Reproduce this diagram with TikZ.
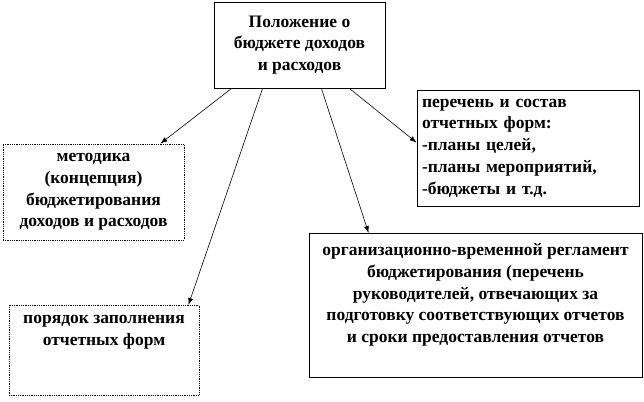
\documentclass[tikz,border=0pt]{standalone}
\usepackage{fontspec}
\setmainfont{Liberation Serif}
\usetikzlibrary{arrows.meta, positioning}

\begin{document}
\begin{tikzpicture}[x=1pt, y=-1pt,
      box/.style={rectangle, draw=black, line width=0.8pt, inner sep=5pt, align=center, font=\fontsize{17.5}{21.8}\selectfont\bfseries},
      dotbox/.style={box, densely dotted},
      arrow/.style={-{Latex[length=7pt, width=5pt]}, line width=0.6pt, black},
    ]
    \useasboundingbox (0,0) rectangle (644,401);

    \node[box, minimum width=171pt, minimum height=86pt] (pol) at (299.5,45) {Положение о\\бюджете доходов\\и расходов};
    \node[dotbox, minimum width=181pt, minimum height=96pt] (met) at (93.5,192) {методика\\(концепция)\\бюджетирования\\доходов и расходов};
    \node[box, align=left, text width=212pt, minimum height=116pt] (per) at (528,148) {перечень и состав\\отчетных форм:\\-планы целей,\\-планы мероприятий,\\-бюджеты и т.д.};
    \node[dotbox, anchor=north, minimum width=190pt, inner ysep=10pt, text depth=40pt] (por) at (104,305) {порядок заполнения\\отчетных форм};
    \node[box, anchor=north, minimum width=333pt, inner ysep=10pt, text depth=25pt] (org) at (475.5,233) {организационно-временной регламент\\бюджетирования (перечень\\руководителей, отвечающих за\\подготовку соответствующих отчетов\\и сроки предоставления отчетов};

    \draw[arrow] ([xshift=18pt]pol.south west) -- ([xshift=-24pt]met.north east);
    \draw[arrow] ([xshift=49pt]pol.south west) -- ([xshift=-11pt]por.north east);
    \draw[arrow] ([xshift=-64pt]pol.south east) -- ([xshift=60pt]org.north west);
    \draw[arrow] ([xshift=-36pt]pol.south east) -- ([yshift=-53pt]per.north west);
  \end{tikzpicture}
\end{document}
